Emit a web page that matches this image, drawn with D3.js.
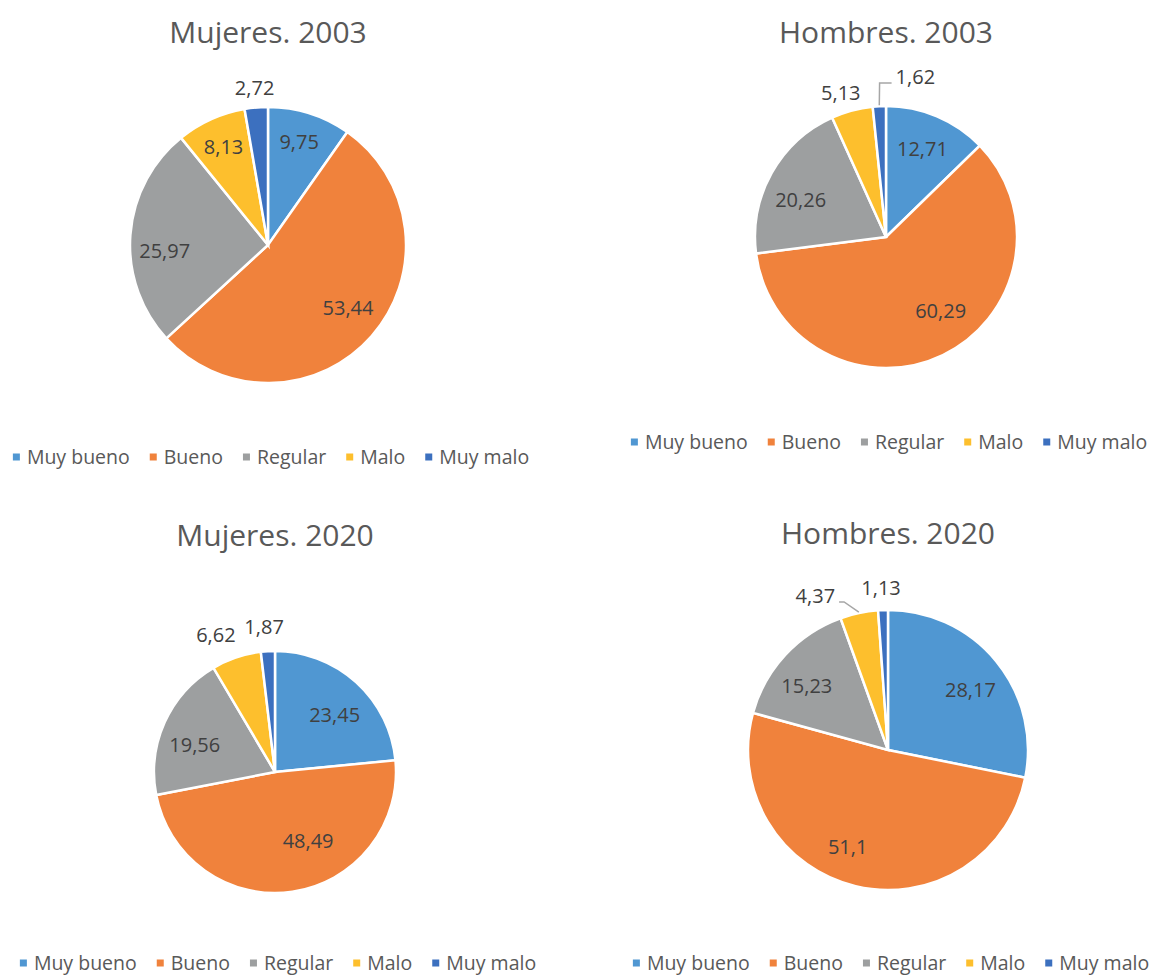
<!DOCTYPE html>
<html>
<head>
<meta charset="utf-8">
<script src="https://cdn.jsdelivr.net/npm/d3@7"></script>
<style>
  body { margin: 0; background: #fff; }
  text { font-family: "Open Sans", sans-serif; }
</style>
</head>
<body>
<svg id="chart" width="1151" height="975"></svg>
<script>
// categories and series
const categories = ['Muy bueno', 'Bueno', 'Regular', 'Malo', 'Muy malo'];
const titles = ['Mujeres. 2003', 'Hombres. 2003', 'Mujeres. 2020', 'Hombres. 2020'];
const mujeres2003 = [9.75, 53.44, 25.97, 8.13, 2.72];
const hombres2003 = [12.71, 60.29, 20.26, 5.13, 1.62];
const mujeres2020 = [23.45, 48.49, 19.56, 6.62, 1.87];
const hombres2020 = [28.17, 51.1, 15.23, 4.37, 1.13];

const colors = ['#5097d2', '#f0823c', '#9d9fa0', '#fdbf2d', '#3c70bf'];

// label placement: [fraction across slice, fraction of radius, leader length]
const place1 = [[0.48, 0.78], [0.485, 0.74], [0.42, 0.75], [0.5, 0.78], [0.5, 1.14]];
const place2 = [[0.49, 0.73], [0.45, 0.70], [0.42, 0.71], [0.37, 1.15], [1.59, 1.22, 16]];
const place3 = [[0.55, 0.68], [0.40, 0.63], [0.42, 0.70], [0.3, 1.23], [0.36, 1.2]];
const place4 = [[0.53, 0.73], [0.55, 0.75], [0.42, 0.74], [0.05, 1.16, 9], [0.39, 1.155]];

const charts = [
  { title: titles[0], values: mujeres2003, place: place1, cx: 268, cy: 245, r: 138, titleY: 32, legendY: 457 },
  { title: titles[1], values: hombres2003, place: place2, cx: 886, cy: 237, r: 131, titleY: 32, legendY: 442 },
  { title: titles[2], values: mujeres2020, place: place3, cx: 275, cy: 772, r: 121, titleY: 535, legendY: 963 },
  { title: titles[3], values: hombres2020, place: place4, cx: 888, cy: 750, r: 140, titleY: 533, legendY: 963 },
];

const svg = d3.select('#chart');
svg.append('rect').attr('width', 1151).attr('height', 975).attr('fill', '#fff');

const fmt = v => String(v).replace('.', ',');
const pie = d3.pie().sort(null).value(d => d);

charts.forEach(c => {
  // title
  svg.append('text')
    .attr('x', c.cx)
    .attr('y', c.titleY)
    .attr('dy', '0.35em')
    .attr('text-anchor', 'middle')
    .attr('font-size', 30)
    .attr('fill', '#595959')
    .text(c.title);

  const g = svg.append('g').attr('transform', `translate(${c.cx},${c.cy})`);
  const arcs = pie(c.values);
  const arc = d3.arc().innerRadius(0).outerRadius(c.r);

  g.selectAll('path.slice')
    .data(arcs)
    .join('path')
    .attr('class', 'slice')
    .attr('d', arc)
    .attr('fill', (d, i) => colors[i])
    .attr('stroke', '#fff')
    .attr('stroke-width', 2.5);

  arcs.forEach((d, i) => {
    const [t, k, lead] = c.place[i];
    const a = d.startAngle + t * (d.endAngle - d.startAngle);
    const pos = d3.arc().innerRadius(k * c.r).outerRadius(k * c.r)
      .centroid({ startAngle: a, endAngle: a });
    let anchor = 'middle';

    if (lead) {
      const mid = (d.startAngle + d.endAngle) / 2;
      const p = d3.arc().innerRadius(c.r + 1).outerRadius(c.r + 1)
        .centroid({ startAngle: mid, endAngle: mid });
      const side = pos[0] > p[0] ? -1 : 1;
      anchor = side === -1 ? 'start' : 'end';
      const path = d3.path();
      path.moveTo(pos[0] + side * 4, pos[1] + 5.5);
      path.lineTo(pos[0] + side * lead, pos[1] + 5.5);
      path.lineTo(p[0], p[1]);
      g.append('path')
        .attr('d', path.toString())
        .attr('fill', 'none')
        .attr('stroke', '#a6a6a6')
        .attr('stroke-width', 1.5);
    }

    g.append('text')
      .attr('x', pos[0])
      .attr('y', pos[1])
      .attr('dy', '0.35em')
      .attr('text-anchor', anchor)
      .attr('font-size', 20)
      .attr('fill', '#404040')
      .text(fmt(c.values[i]));
  });

  // legend
  const gap = 20;
  const lg = svg.append('g');
  let x = 0;
  categories.forEach((cat, i) => {
    lg.append('rect')
      .attr('x', x)
      .attr('y', -3.5)
      .attr('width', 7)
      .attr('height', 7)
      .attr('fill', colors[i]);
    const txt = lg.append('text')
      .attr('x', x + 14)
      .attr('y', 0)
      .attr('dy', '0.35em')
      .attr('font-size', 19.5)
      .attr('fill', '#595959')
      .text(cat);
    x += 14 + txt.node().getComputedTextLength() + gap;
  });
  const total = x - gap;
  lg.attr('transform', `translate(${c.cx + 3 - total / 2},${c.legendY})`);
});
</script>
</body>
</html>
